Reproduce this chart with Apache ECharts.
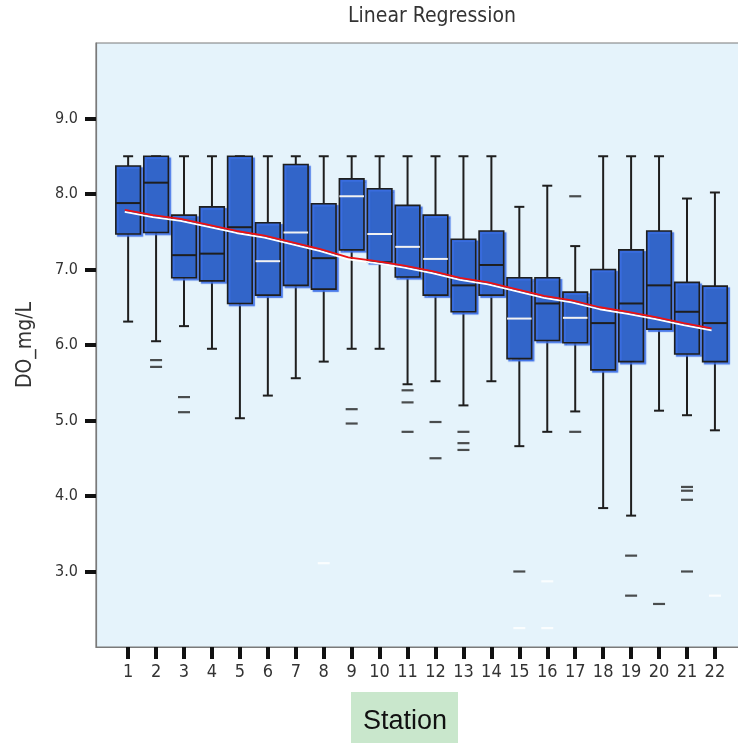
<!DOCTYPE html>
<html>
<head>
<meta charset="utf-8">
<title>Linear Regression</title>
<script src="https://cdn.jsdelivr.net/npm/echarts@6/dist/echarts.min.js"></script>
<style>
  html, body { margin: 0; padding: 0; background: #ffffff; overflow: hidden; }
  #chart { width: 738px; height: 743px; }
</style>
</head>
<body>
<div id="chart"></div>
<script>
// Dissolved oxygen (mg/L) per monitoring station
const stations = [1, 2, 3, 4, 5, 6, 7, 8, 9, 10, 11, 12, 13, 14, 15, 16, 17, 18, 19, 20, 21, 22];
const whiskerLow  = [6.31, 6.05, 6.25, 5.95, 5.03, 5.33, 5.56, 5.78, 5.95, 5.95, 5.48, 5.52, 5.20, 5.52, 4.66, 4.85, 5.12, 3.84, 3.74, 5.13, 5.07, 4.87];
const q1          = [7.47, 7.49, 6.89, 6.85, 6.55, 6.66, 6.79, 6.74, 7.26, 7.10, 6.90, 6.66, 6.44, 6.66, 5.82, 6.06, 6.03, 5.67, 5.78, 6.21, 5.88, 5.78];
const medians     = [7.88, 8.15, 7.19, 7.21, 7.56, 7.11, 7.49, 7.15, 7.97, 7.47, 7.30, 7.14, 6.79, 7.06, 6.35, 6.55, 6.36, 6.29, 6.55, 6.79, 6.44, 6.29];
const q3          = [8.37, 8.50, 7.72, 7.83, 8.50, 7.62, 8.39, 7.87, 8.20, 8.07, 7.85, 7.72, 7.40, 7.51, 6.89, 6.89, 6.70, 7.00, 7.26, 7.51, 6.83, 6.78];
const whiskerHigh = [8.50, 8.50, 8.50, 8.50, 8.50, 8.50, 8.50, 8.50, 8.50, 8.50, 8.50, 8.50, 8.50, 8.50, 7.83, 8.11, 7.31, 8.50, 8.50, 8.50, 7.94, 8.02];
// median line drawn light (1) or dark (0)
const medianLight = [0, 0, 0, 0, 0, 1, 1, 0, 1, 1, 1, 1, 0, 0, 1, 0, 1, 0, 0, 0, 0, 0];

// outliers: [station, value, light(1)/dark(0)]
const outliers = [
  [2, 5.80, 0], [2, 5.71, 0],
  [3, 5.31, 0], [3, 5.11, 0],
  [8, 3.11, 1],
  [9, 5.15, 0], [9, 4.96, 0],
  [11, 5.40, 0], [11, 5.24, 0], [11, 4.85, 0],
  [12, 4.98, 0], [12, 4.50, 0],
  [13, 4.85, 0], [13, 4.70, 0], [13, 4.61, 0],
  [15, 3.00, 0], [15, 2.25, 1],
  [16, 2.87, 1], [16, 2.25, 1],
  [17, 7.97, 0], [17, 4.85, 0],
  [19, 3.21, 0], [19, 2.68, 0],
  [20, 2.57, 0],
  [21, 4.12, 0], [21, 4.07, 0], [21, 3.95, 0], [21, 3.00, 0],
  [22, 2.68, 1]
];

// fitted regression line values at each station
const fitted = [7.79, 7.72, 7.67, 7.59, 7.51, 7.45, 7.36, 7.27, 7.16, 7.11, 7.05, 6.98, 6.89, 6.83, 6.74, 6.65, 6.59, 6.50, 6.44, 6.37, 6.29, 6.22];

const yTicks = [3, 4, 5, 6, 7, 8, 9];

const narrow = '"Liberation Sans Narrow", "DejaVu Sans Condensed", sans-serif';

const boxData = stations.map((s, i) => [s, whiskerLow[i], q1[i], medians[i], q3[i], whiskerHigh[i], medianLight[i]]);

function renderBox(params, api) {
  const x = api.value(0);
  const pLow = api.coord([x, api.value(1)]);
  const pQ1 = api.coord([x, api.value(2)]);
  const pMed = api.coord([x, api.value(3)]);
  const pQ3 = api.coord([x, api.value(4)]);
  const pHigh = api.coord([x, api.value(5)]);
  const light = api.value(6) === 1;
  const band = api.size([1, 0])[0];
  const bw = band * 0.88;
  const cap = 10;
  const cx = pQ1[0];
  const dark = '#1e1e1e';
  return {
    type: 'group',
    children: [
      { type: 'line', shape: { x1: cx, y1: pQ3[1], x2: cx, y2: pHigh[1] }, style: { stroke: dark, lineWidth: 2 } },
      { type: 'line', shape: { x1: cx, y1: pQ1[1], x2: cx, y2: pLow[1] }, style: { stroke: dark, lineWidth: 2 } },
      { type: 'line', shape: { x1: cx - cap / 2, y1: pHigh[1], x2: cx + cap / 2, y2: pHigh[1] }, style: { stroke: dark, lineWidth: 2 } },
      { type: 'line', shape: { x1: cx - cap / 2, y1: pLow[1], x2: cx + cap / 2, y2: pLow[1] }, style: { stroke: dark, lineWidth: 2 } },
      {
        type: 'rect',
        shape: { x: cx - bw / 2, y: pQ3[1], width: bw, height: pQ1[1] - pQ3[1] },
        style: {
          fill: '#3265c9', stroke: dark, lineWidth: 1.6,
          shadowColor: 'rgba(60,110,230,0.85)', shadowOffsetX: 2, shadowOffsetY: 2, shadowBlur: 1
        }
      },
      {
        type: 'line',
        shape: { x1: cx - bw / 2, y1: pMed[1], x2: cx + bw / 2, y2: pMed[1] },
        style: { stroke: light ? '#f2f2f2' : dark, lineWidth: 2 }
      }
    ]
  };
}

const chart = echarts.init(document.getElementById('chart'), null, { renderer: 'canvas' });

chart.setOption({
  animation: false,
  backgroundColor: '#ffffff',
  grid: {
    left: 96, top: 43, width: 660, bottom: 96,
    outerBoundsMode: 'none',
    show: true, backgroundColor: '#e5f3fb', borderColor: '#7a7a7a', borderWidth: 1.2
  },
  graphic: [
    {
      type: 'text',
      style: { text: 'Linear Regression', x: 432, y: 17, align: 'center', verticalAlign: 'middle',
               font: '21px ' + narrow, fill: '#333333' }
    },
    {
      type: 'rect', shape: { x: 351, y: 692, width: 107, height: 51 },
      style: { fill: '#c9e7cc' }
    },
    {
      type: 'text',
      style: { text: 'Station', x: 405, y: 722, align: 'center', verticalAlign: 'middle',
               font: '27px "Liberation Sans", Arial, sans-serif', fill: '#111111' }
    }
  ],
  xAxis: {
    type: 'value', min: -0.15, max: 23.47,
    splitLine: { show: false },
    axisLine: { show: true, onZero: false, lineStyle: { color: '#7a7a7a', width: 1.2 } },
    axisTick: { show: true, inside: false, customValues: stations, length: 12, lineStyle: { color: '#111111', width: 4 } },
    axisLabel: {
      customValues: stations, margin: 16, color: '#333333', fontSize: 18, fontFamily: narrow,
      formatter: v => String(v)
    }
  },
  yAxis: {
    type: 'value', min: 2, max: 10,
    name: 'DO_mg/L', nameLocation: 'middle', nameGap: 60, nameRotate: 90,
    nameTextStyle: { color: '#333333', fontSize: 21, fontFamily: narrow },
    splitLine: { show: false },
    axisLine: { show: true, onZero: false, lineStyle: { color: '#7a7a7a', width: 1.2 } },
    axisTick: { show: true, inside: false, customValues: yTicks, length: 11, lineStyle: { color: '#111111', width: 4 } },
    axisLabel: {
      customValues: yTicks, margin: 18, color: '#333333', fontSize: 16, fontFamily: narrow,
      formatter: v => v.toFixed(1)
    }
  },
  series: [
    {
      type: 'custom', name: 'box', renderItem: renderBox,
      data: boxData, encode: { x: 0, y: [1, 2, 3, 4, 5] }, z: 2
    },
    {
      type: 'scatter', name: 'outliers',
      data: outliers, symbol: 'rect', symbolSize: [12, 2.2],
      itemStyle: { color: p => (p.data[2] === 1 ? '#ffffff' : '#222222') }, z: 3
    },
    {
      type: 'line', name: 'fit',
      data: stations.map((s, i) => [s - 0.12, fitted[i]]),
      symbol: 'none',
      lineStyle: { color: '#ee1111', width: 1.8, shadowColor: '#ffffff', shadowOffsetY: 2, shadowBlur: 0 },
      z: 4
    }
  ]
});
</script>
</body>
</html>
